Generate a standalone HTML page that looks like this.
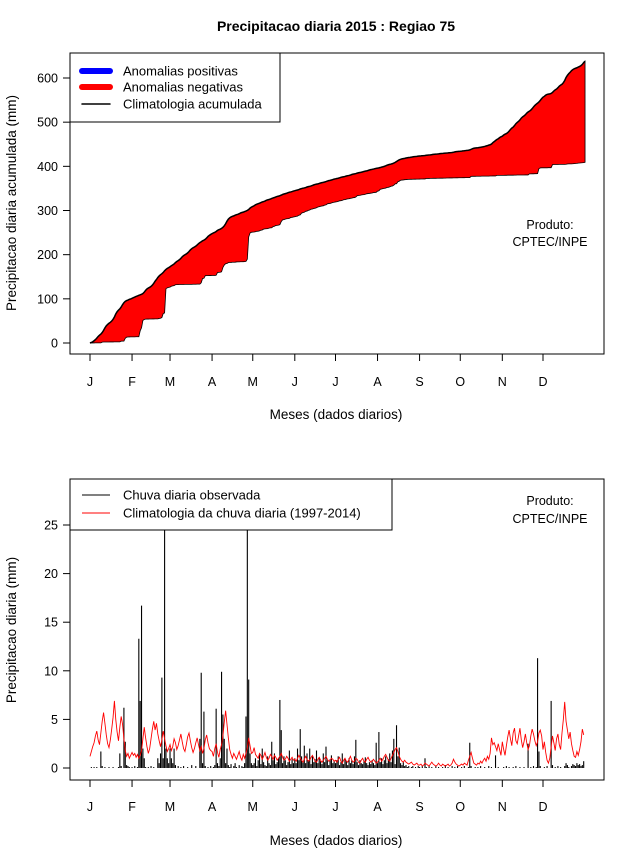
<!DOCTYPE html>
<html><head><meta charset="utf-8">
<style>
html,body{margin:0;padding:0;background:#fff;}
svg{display:block;font-family:"Liberation Sans",Arial,sans-serif;}
</style></head>
<body>
<svg id="chart" width="640" height="850" viewBox="0 0 640 850" xmlns="http://www.w3.org/2000/svg">
<rect width="640" height="850" fill="#fff"/>
<text x="336" y="31" text-anchor="middle" font-size="14" font-weight="bold">Precipitacao diaria 2015 : Regiao 75</text>
<g id="top"></g>
<g id="bot"></g>
</svg>
<script>
const monthLabels = ["J","F","M","A","M","J","J","A","S","O","N","D"];
const monthStartDays = [0,31,59,90,120,151,181,212,243,273,304,334];
const topTicks = [0,100,200,300,400,500,600];
const botTicks = [0,5,10,15,20,25];

const climJan=[1.2,1.7,2.2,2.6,3.3,3.8,2.9,2.4,3.6,4.8,5.7,4.6,3.4,2.5,2.1,2.9,4.0,5.2,6.9,5.0,3.7,2.8,4.2,5.3,4.5,3.0,1.8,1.2,1.5,1.0,1.3];
const climFeb=[1.6,1.3,1.5,1.1,1.4,1.0,1.3,1.8,3.0,4.2,3.1,2.2,1.5,2.0,3.0,4.0,4.8,3.9,4.6,3.5,2.8,2.2,2.9,3.8,3.0,2.3,1.7,2.0];
const climMar=[2.4,1.8,2.2,3.0,2.6,1.9,2.3,2.9,3.5,2.7,2.0,1.7,2.4,3.2,3.6,2.8,2.1,1.6,2.0,2.6,3.1,2.4,1.8,2.2,1.5,2.0,2.9,3.4,2.6,2.0,1.8];
const climApr=[1.7,1.2,2.0,2.5,1.6,1.1,1.9,2.4,3.3,4.7,5.9,4.5,3.1,1.9,1.4,1.0,1.5,1.2,0.9,1.3,1.7,1.1,0.8,1.4,1.0,1.5,2.1,3.1,2.3,1.5];
const climMay=[1.6,2.1,1.4,1.2,1.0,1.5,1.3,0.9,1.2,1.6,1.1,0.8,1.0,1.4,1.2,0.9,1.3,1.1,0.8,1.0,1.2,1.5,1.1,0.8,0.9,1.2,1.0,0.7,0.9,1.1,0.8];
const climJun=[0.9,0.7,1.0,1.3,1.0,0.8,0.6,0.9,1.2,0.9,0.7,0.8,1.1,1.3,1.0,0.7,0.6,0.9,1.1,0.8,0.6,0.8,1.0,1.2,0.9,0.7,0.8,1.0,0.9,0.7];
const climJul=[0.8,0.6,0.9,1.1,0.7,0.5,0.8,1.0,0.7,0.6,0.9,1.2,0.8,0.6,0.7,1.0,0.9,0.6,0.5,0.8,1.0,0.7,0.6,0.9,1.1,0.8,0.6,0.7,0.9,0.7,0.5];
const climAug=[0.6,0.8,1.0,0.7,0.9,1.2,1.4,1.1,0.8,0.7,1.0,1.3,1.6,1.9,2.1,1.7,1.2,0.9,0.7,0.6,0.8,0.6,0.5,0.4,0.5,0.6,0.4,0.3,0.4,0.5,0.3];
const climSep=[0.3,0.4,0.2,0.3,0.5,0.4,0.3,0.2,0.4,0.6,0.4,0.3,0.2,0.3,0.5,0.3,0.2,0.4,0.3,0.2,0.3,0.4,0.2,0.3,0.5,0.9,0.6,0.4,0.3,0.2];
const climOct=[0.3,0.4,0.3,0.5,0.4,0.3,0.8,1.2,1.6,1.0,0.5,0.4,0.3,0.5,0.4,0.7,0.5,0.8,1.0,0.7,1.2,0.9,1.5,3.1,2.4,2.6,2.2,1.8,2.5,1.9,1.3];
const climNov=[2.7,1.9,1.3,2.3,3.2,3.9,3.0,2.3,3.6,4.1,2.8,2.5,3.3,4.1,2.9,2.1,2.7,3.5,2.6,1.9,2.3,3.3,4.0,3.5,2.8,2.3,2.7,3.6,3.9,3.3];
const climDec=[1.9,2.7,1.6,0.8,0.5,1.0,2.2,3.3,2.6,1.8,3.0,3.5,2.4,1.9,3.6,5.0,6.8,4.8,3.9,3.0,3.7,2.5,1.8,1.2,1.1,1.7,1.3,1.9,2.7,4.0,3.4];

const obsJan=[0,0.1,0,0.1,0,0.1,0,0,1.7,0.2,0,0.1,0,0,0.1,0,0,0.1,0,0,0,0.1,1.5,0.2,0,6.2,2.7,0.3,0.2,0.1,0];
const obsFeb=[0.1,0,0.2,0,0.1,13.3,6.9,16.7,2.0,1.0,0.1,0,0.1,0,0.2,0,0.1,0,0,1.0,0.5,1.5,9.3,1.0,55,2.0,1.0,0.5];
const obsMar=[2.0,1.0,0.5,2.0,0.3,0,0.2,0,0.1,0,0.2,0,0,0.1,0,0,0.3,0,0,0.2,0,0,3.0,9.8,0.5,5.8,0.2,0,0.1,0,0.2];
const obsApr=[0,0.1,0.3,6.1,0.5,0.2,1.0,9.9,5.5,3.0,0.5,2.0,0.3,0.1,0.4,0,0.2,0.5,0.1,0,0.3,0,0.2,0.1,0.5,5.3,50,9.1,1.5,0.5];
const obsMay=[0.3,0.5,1.0,0.2,0.8,1.5,0.4,2.0,0.6,0.3,0.2,1.2,0.5,0.3,2.7,0.8,1.5,0.4,0.6,1.0,7.0,3.9,0.5,1.2,0.8,0.3,0.6,1.8,0.4,0.9,0.5];
const obsJun=[1.0,0.5,2.0,0.8,4.0,1.2,0.6,2.3,0.5,1.5,0.8,2.0,0.4,1.2,0.6,0.9,1.8,0.5,1.1,0.7,0.4,1.5,0.6,2.2,0.8,0.3,0.9,1.3,0.5,0.7];
const obsJul=[0.5,0.8,1.2,0.3,0.6,1.5,0.4,0.9,0.7,0.3,1.0,0.5,0.8,0.4,1.2,2.9,0.6,0.3,0.8,0.5,0.4,0.7,1.1,0.5,0.3,0.6,0.4,0.8,0.5,0.3,2.6];
const obsAug=[0.5,3.7,0.6,1.0,0.4,0.8,1.2,0.5,0.9,1.5,0.6,1.8,3.0,0.4,4.4,1.2,2.1,0.5,0.3,0.6,0.2,0.3,0.1,0.2,0,0.1,0.2,0,0.1,0,0.2];
const obsSep=[0.1,0,0.2,0,1.0,0.1,0,0.2,0,0.1,0,0,0.2,0,0.1,0,0,0.1,0,0.3,0,0.1,0,0,0.2,0,0.1,0,0.2,0];
const obsOct=[0,0.1,0,0.2,0,0,0.1,2.6,0.2,0,0,0.1,0,0.1,0,0.2,0,0,0.1,0,0,0.2,0,0.1,0,0,1.3,0,0.1,0,0];
const obsNov=[0,0.1,0,0.2,0,0.1,0,0,0.1,0,0.2,0,0,0.1,0,0,0.1,0,0,2.5,0,0.1,0,0.2,0,0.1,11.3,1.7,0.2,0];
const obsDec=[0,0.1,0,0.2,0,0,6.9,0.3,0,0.1,0,0.2,0,0.1,0,0,0.2,0.5,0.3,0.1,0,0.2,0.4,0.3,0.2,0.5,0.3,0.4,0.2,0.3,0.7];

const climDaily=[].concat(climJan,climFeb,climMar,climApr,climMay,climJun,climJul,climAug,climSep,climOct,climNov,climDec);
const obsDaily=[].concat(obsJan,obsFeb,obsMar,obsApr,obsMay,obsJun,obsJul,obsAug,obsSep,obsOct,obsNov,obsDec);

const NS="http://www.w3.org/2000/svg";
function mk(parent,tag,attrs,text){const e=document.createElementNS(NS,tag);for(const k in attrs)e.setAttribute(k,attrs[k]);if(text!==undefined)e.textContent=text;parent.appendChild(e);return e;}
const xDay=d=>90+d*(453/334);
const yTop=v=>343-v*(265/600);
const yBot=v=>768-v*(243/25);

function cum(a){let s=0;const r=[0];a.forEach(v=>{s+=v;r.push(s);});return r;}
const climCum=cum(climDaily), obsCum=cum(obsDaily);

function panel(g,box,ticks,yf,ylab,ylabY,xLabY,xTitleY){
  const f=mk(g,'rect',{x:box[0],y:box[1],width:box[2]-box[0],height:box[3]-box[1],fill:'none',stroke:'#000','stroke-width':1});
  
  ticks.forEach(t=>{const y=yf(t);
    const l=mk(g,'line',{x1:box[0]-7,x2:box[0],y1:y,y2:y,stroke:'#000'});
    
    const tx=mk(g,'text',{x:box[0]-12,y:y+4.5,'text-anchor':'end','font-size':12.5},String(t));
    });
  monthStartDays.forEach((d,i)=>{const x=xDay(d);
    const l=mk(g,'line',{x1:x,x2:x,y1:box[3],y2:box[3]+7,stroke:'#000'});
    
    const tx=mk(g,'text',{x:x,y:xLabY,'text-anchor':'middle','font-size':12.5},monthLabels[i]);
    });
  const xt=mk(g,'text',{x:336,y:xTitleY,'text-anchor':'middle','font-size':13.5},'Meses (dados diarios)');
  
  const yt=mk(g,'text',{x:0,y:0,'text-anchor':'middle','font-size':13.5,transform:`translate(16,${ylabY}) rotate(-90)`},ylab);
  
}

// Top panel
const gt=document.getElementById('top');
const tb=[70,53,604,354];
let pts=[];
for(let i=0;i<climCum.length;i++)pts.push(xDay(i)+','+yTop(climCum[i]));
for(let i=obsCum.length-1;i>=0;i--)pts.push(xDay(i)+','+yTop(Math.min(obsCum[i],climCum[i])));
const area=mk(gt,'polygon',{points:pts.join(' '),fill:'#ff0000',stroke:'#000','stroke-width':0.8});

const cl=mk(gt,'polyline',{points:climCum.map((v,i)=>xDay(i)+','+yTop(v)).join(' '),fill:'none',stroke:'#000','stroke-width':1.5});

panel(gt,tb,topTicks,yTop,'Precipitacao diaria acumulada (mm)',203,386,419);
const lg=mk(gt,'g',{});

mk(lg,'rect',{x:70,y:53,width:210,height:69,fill:'#fff',stroke:'#000'});
[['#0000ff',6,'Anomalias positivas',71],['#ff0000',6,'Anomalias negativas',87],['#000',1.5,'Climatologia acumulada',104]].forEach(e=>{
  const ln=mk(lg,'line',{x1:82,x2:110,y1:e[3],y2:e[3],stroke:e[0],'stroke-width':e[1],'stroke-linecap':'round'});
  
  const t=mk(lg,'text',{x:123,y:e[3]+4.5,'font-size':13},e[2]);
  });
const p1=mk(gt,'text',{x:550,y:229,'text-anchor':'middle','font-size':12.5},'Produto:');

const p2=mk(gt,'text',{x:550,y:246,'text-anchor':'middle','font-size':12.5},'CPTEC/INPE');


// Bottom panel
const gb=document.getElementById('bot');
const bb=[70,479,604,780];
const clipTop=bb[1];
obsDaily.forEach((v,i)=>{const x=xDay(i);
  const b=mk(gb,'line',{x1:x,x2:x,y1:yBot(0),y2:Math.max(clipTop,yBot(v)),stroke:'#000','stroke-width':1.1});
  });
const rl=mk(gb,'polyline',{points:climDaily.map((v,i)=>xDay(i)+','+yBot(v)).join(' '),fill:'none',stroke:'#ff0000','stroke-width':0.9});

panel(gb,bb,botTicks,yBot,'Precipitacao diaria (mm)',630,811,845);
const lg2=mk(gb,'g',{});

mk(lg2,'rect',{x:70,y:479,width:322,height:51,fill:'#fff',stroke:'#000'});
[['#000','Chuva diaria observada',495],['#ff0000','Climatologia da chuva diaria (1997-2014)',513]].forEach(e=>{
  const ln=mk(lg2,'line',{x1:82,x2:110,y1:e[2],y2:e[2],stroke:e[0],'stroke-width':1});
  
  const t=mk(lg2,'text',{x:123,y:e[2]+4.5,'font-size':13},e[1]);
  });
const p3=mk(gb,'text',{x:550,y:505,'text-anchor':'middle','font-size':12.5},'Produto:');

const p4=mk(gb,'text',{x:550,y:523,'text-anchor':'middle','font-size':12.5},'CPTEC/INPE');

</script>
</body></html>
